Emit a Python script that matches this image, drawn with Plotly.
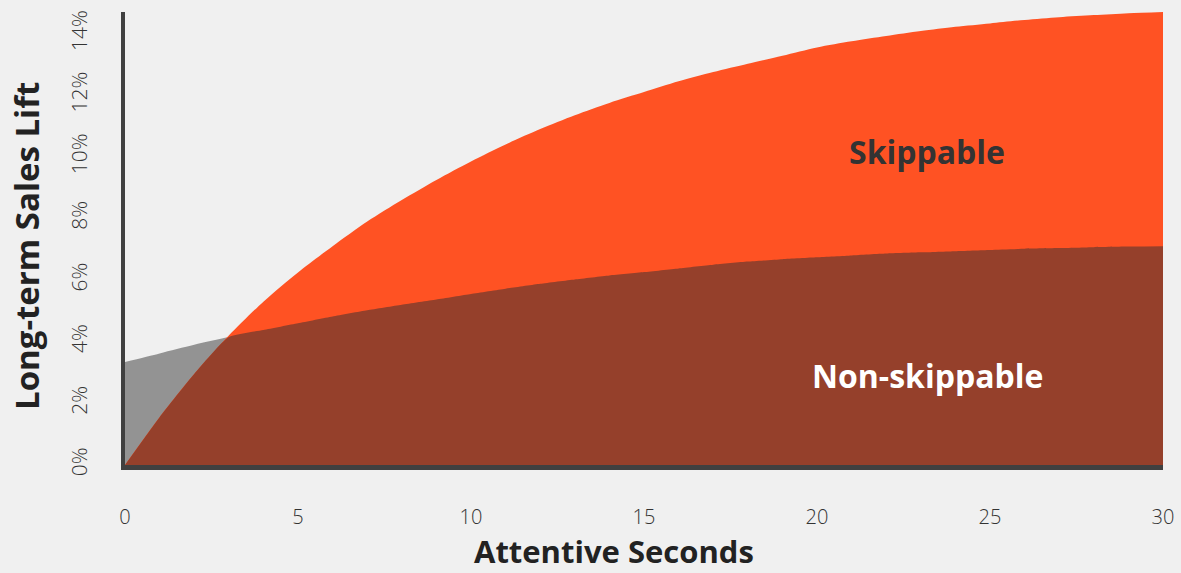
import plotly.graph_objects as go

# Attentive seconds (x) and long-term sales lift (%)
seconds = list(range(0, 31))
skippable = [0.0, 1.55, 2.95, 4.2, 5.3, 6.25, 7.1, 7.9, 8.6, 9.25, 9.85,
             10.4, 10.9, 11.35, 11.75, 12.1, 12.45, 12.75, 13.02, 13.28, 13.55,
             13.75, 13.92, 14.08, 14.22, 14.33, 14.44, 14.53, 14.6, 14.66, 14.7]
non_skippable = [3.34, 3.62, 3.9, 4.15, 4.38, 4.6, 4.82, 5.02, 5.2, 5.37, 5.55,
                 5.72, 5.88, 6.02, 6.15, 6.26, 6.38, 6.5, 6.6, 6.68, 6.74,
                 6.8, 6.86, 6.9, 6.94, 6.98, 7.02, 7.04, 7.07, 7.09, 7.1]
y_ticks = [0, 2, 4, 6, 8, 10, 12, 14]
x_ticks = [0, 5, 10, 15, 20, 25, 30]

BG = "#f0f0f0"
GRAY = "#939393"
ORANGE = "#ff5223"
BROWN = "#95402b"
AXIS = "#404040"
BOLD_FONT = "Open Sans"
TICK_FONT = "Open Sans"

overlap = [min(a, b) for a, b in zip(skippable, non_skippable)]

fig = go.Figure()
fig.add_trace(go.Scatter(x=seconds, y=non_skippable, fill="tozeroy", mode="lines",
                         line=dict(width=0, color=GRAY, shape="spline", smoothing=0.8),
                         fillcolor=GRAY, name="Non-skippable", hoverinfo="skip"))
fig.add_trace(go.Scatter(x=seconds, y=skippable, fill="tozeroy", mode="lines",
                         line=dict(width=0, color=ORANGE, shape="spline", smoothing=0.8),
                         fillcolor=ORANGE, name="Skippable", hoverinfo="skip"))
fig.add_trace(go.Scatter(x=seconds, y=overlap, fill="tozeroy", mode="lines",
                         line=dict(width=0, color=BROWN, shape="spline", smoothing=0.5),
                         fillcolor=BROWN, name="Overlap", hoverinfo="skip"))

fig.add_annotation(x=23.18, y=10.16, xref="x", yref="y", text="<b>Skippable</b>",
                   showarrow=False, font=dict(family=BOLD_FONT, size=32, color="#333333"))
fig.add_annotation(x=23.2, y=2.92, xref="x", yref="y", text="<b>Non-skippable</b>",
                   showarrow=False, font=dict(family=BOLD_FONT, size=32, color="#ffffff"))

# axis titles
fig.add_annotation(x=(614 - 125) / 1038, y=(465 - 551) / 453, xref="paper", yref="paper",
                   text="<b>Attentive Seconds</b>", showarrow=False,
                   font=dict(family=BOLD_FONT, size=31, color="#222222"),
                   xanchor="center", yanchor="middle")
fig.add_annotation(x=(26 - 125) / 1038, y=(465 - 246) / 453, xref="paper", yref="paper",
                   text="<b>Long-term Sales Lift</b>", showarrow=False, textangle=-90,
                   font=dict(family=BOLD_FONT, size=33, color="#222222"),
                   xanchor="center", yanchor="middle")

fig.update_layout(
    width=1181, height=573,
    margin=dict(l=125, r=18, t=12, b=108, autoexpand=False),
    paper_bgcolor=BG, plot_bgcolor=BG,
    showlegend=False,
)
fig.update_xaxes(range=[0, 30], tickvals=x_ticks, ticktext=[str(v) for v in x_ticks],
                 showgrid=False, zeroline=False, showline=True, linecolor=AXIS, linewidth=5,
                 ticks="outside", ticklen=30, tickcolor=BG, automargin=False,
                 tickfont=dict(family=TICK_FONT, size=20, color="#333333", weight=300))
fig.update_yaxes(range=[0, 14.7], tickvals=y_ticks, ticktext=[f"{v}%" for v in y_ticks],
                 showgrid=False, zeroline=False, showline=True, linecolor=AXIS, linewidth=4,
                 ticks="outside", ticklen=26, tickcolor=BG, tickangle=-90, automargin=False,
                 tickfont=dict(family=TICK_FONT, size=21, color="#333333", weight=300))

fig.write_html("out.html")
